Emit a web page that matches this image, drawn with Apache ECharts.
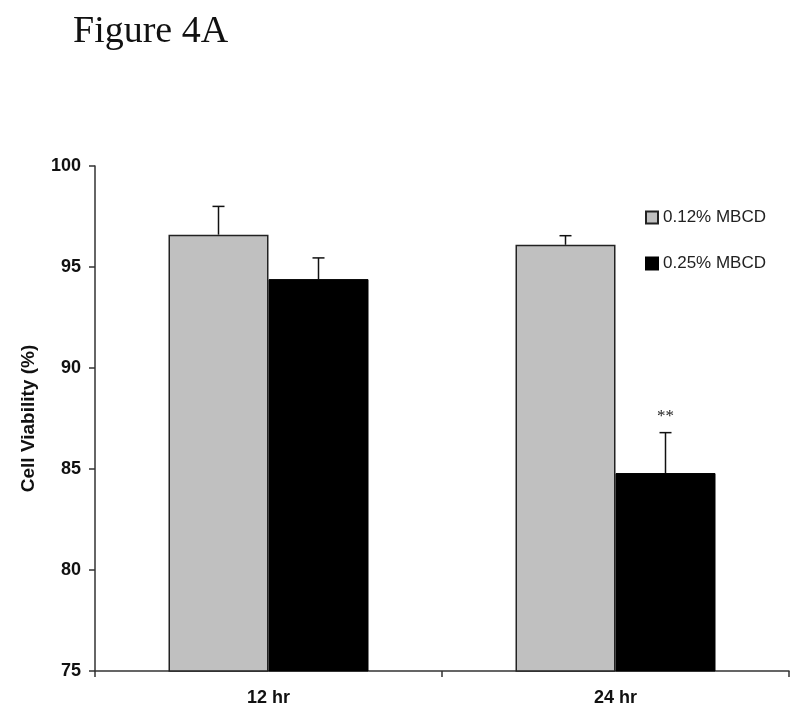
<!DOCTYPE html>
<html><head><meta charset="utf-8">
<script src="https://cdn.jsdelivr.net/npm/echarts@6/dist/echarts.min.js"></script>
<style>html,body{margin:0;padding:0;background:#fff}#c{width:800px;height:714px}</style>
</head><body><div id="c"></div>
<script>
const categories = ['12 hr', '24 hr'];
const seriesNames = ['0.12% MBCD', '0.25% MBCD'];
const low = [96.6, 96.1];
const lowErr = [1.4, 0.45];
const high = [94.4, 84.8];
const highErr = [1.05, 2.0];
const highSig = ['', '**'];
const yTicks = [75, 80, 85, 90, 95, 100];

const chart = echarts.init(document.getElementById('c'));
const barW = 100;
function errSeries(seriesIdx, vals, errs, sig) {
  return {
    type: 'custom',
    silent: true,
    z: 10,
    data: vals.map((v, i) => [i, v, errs[i], sig ? sig[i] : '']),
    renderItem: function (params, api) {
      const ci = api.value(0);
      const v = api.value(1), e = api.value(2);
      const c = api.coord([ci, v]);
      const t = api.coord([ci, v + e]);
      const x = c[0] + (seriesIdx === 0 ? -barW / 2 : barW / 2);
      const children = [
        {type: 'line', shape: {x1: x, y1: c[1], x2: x, y2: t[1]}, style: {stroke: '#111', lineWidth: 1.5}},
        {type: 'line', shape: {x1: x - 6, y1: t[1], x2: x + 6, y2: t[1]}, style: {stroke: '#111', lineWidth: 1.5}}
      ];
      const s = api.value(3);
      if (s) {
        children.push({type: 'text', style: {text: s, x: x, y: t[1] - 8, align: 'center', verticalAlign: 'bottom', font: '17px "Liberation Serif"', fill: '#222'}});
      }
      return {type: 'group', children: children};
    }
  };
}
chart.setOption({
  animation: false,
  title: {text: 'Figure 4A', left: 68, top: 8, textStyle: {fontFamily: 'Liberation Serif', fontSize: 38, fontWeight: 'normal', color: '#111'}},
  legend: {
    data: seriesNames, orient: 'vertical', left: 640, top: 204, itemWidth: 12, itemHeight: 12, itemGap: 29,
    icon: 'rect',
    textStyle: {fontFamily: 'Liberation Sans', fontSize: 17, color: '#222'}
  },
  grid: {left: 95, right: 11, top: 166, bottom: 43},
  xAxis: {
    type: 'category', data: categories,
    axisLine: {lineStyle: {color: '#333', width: 1.5}},
    axisTick: {show: true, length: 6, lineStyle: {color: '#333', width: 1.5}},
    axisLabel: {fontFamily: 'Liberation Sans', fontWeight: 'bold', fontSize: 18, color: '#111', margin: 18}
  },
  yAxis: {
    type: 'value', min: 75, max: 100, interval: 5,
    name: 'Cell Viability (%)', nameLocation: 'middle', nameGap: 57, nameRotate: 90,
    nameTextStyle: {fontFamily: 'Liberation Sans', fontWeight: 'bold', fontSize: 19, color: '#111'},
    axisLine: {show: true, lineStyle: {color: '#333', width: 1.5}},
    axisTick: {show: true, length: 6, lineStyle: {color: '#333', width: 1.5}},
    splitLine: {show: false},
    axisLabel: {fontFamily: 'Liberation Sans', fontWeight: 'bold', fontSize: 18, color: '#111', margin: 14,
      formatter: v => yTicks.includes(v) ? String(v) : ''}
  },
  series: [
    {name: seriesNames[0], type: 'bar', data: low, barWidth: barW, barGap: 0,
      itemStyle: {color: '#c0c0c0', borderColor: '#222', borderWidth: 1.5}},
    {name: seriesNames[1], type: 'bar', data: high, barWidth: barW, barGap: 0,
      itemStyle: {color: '#000', borderColor: '#000', borderWidth: 1}},
    errSeries(0, low, lowErr, null),
    errSeries(1, high, highErr, highSig)
  ]
});
</script></body></html>
